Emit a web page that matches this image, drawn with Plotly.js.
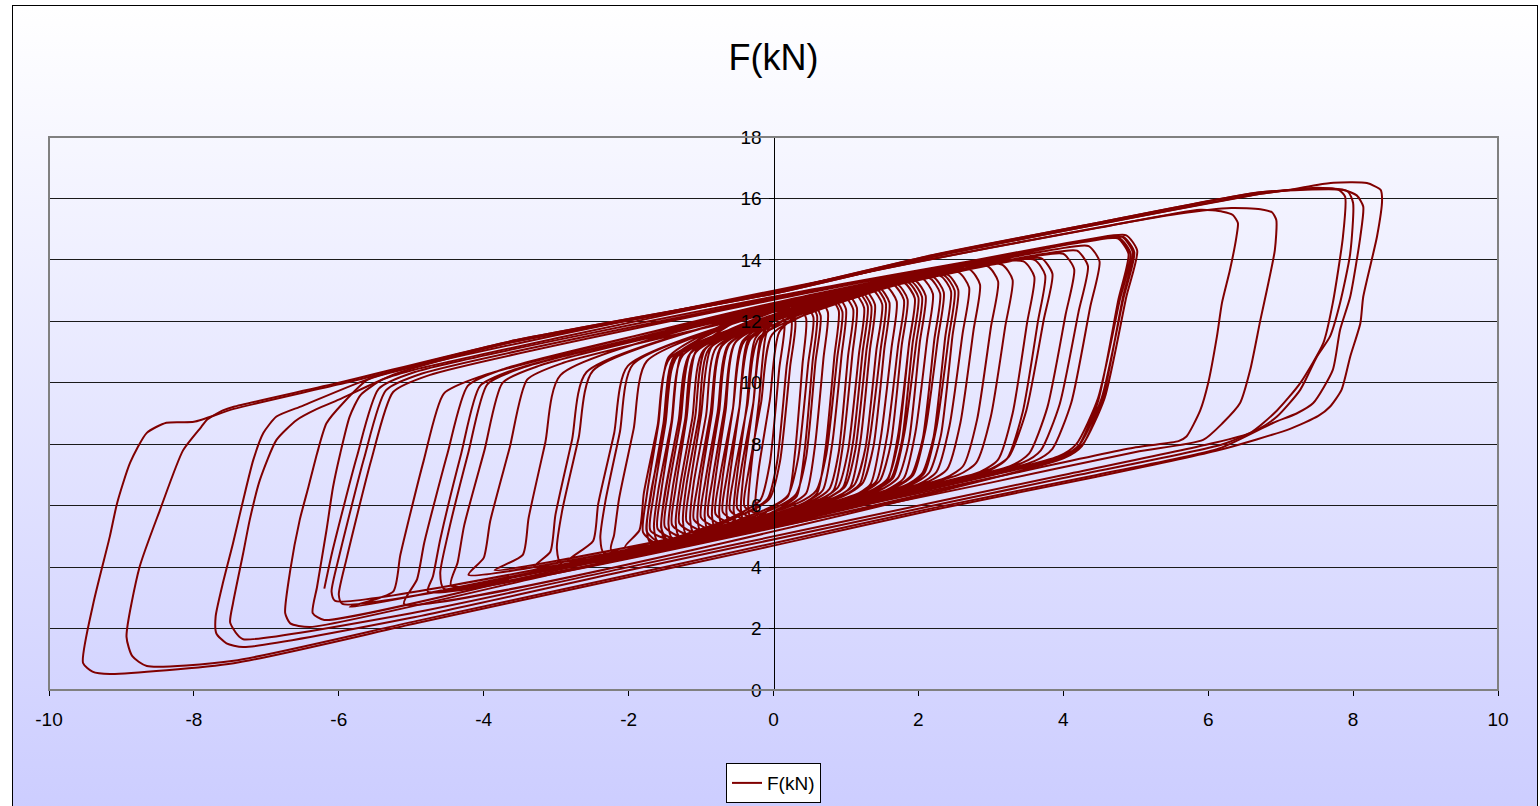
<!DOCTYPE html>
<html>
<head>
<meta charset="utf-8">
<script src="https://cdn.plot.ly/plotly-3.0.1.min.js"></script>
<style>
  html, body { margin:0; padding:0; background:#ffffff; }
  #bg { position:absolute; left:12px; top:5px; width:1524px; height:806px; border:1px solid #000;
        background:linear-gradient(to bottom, #ffffff 0%, #cccdff 100%); }
  #chart { position:absolute; left:0; top:0; width:1540px; height:806px; }
</style>
</head>
<body>
<div id="bg"></div>
<div id="chart"></div>
<script>
// Tick labels
const xTicks = [-10, -8, -6, -4, -2, 0, 2, 4, 6, 8, 10];
const yTicks = [0, 2, 4, 6, 8, 10, 12, 14, 16, 18];
const seriesName = 'F(kN)';

// Densest central cycles (displacement x, force y)
const denseX = [
 -1.65,-0.30,-0.05,0.09,0.23,0.30,0.15,-0.65,-1.45,-1.59,-1.75,-1.80,
 -1.60,0.87,1.12,1.27,1.42,1.50,1.35,-0.01,-1.37,-1.52,-1.69,-1.75,
 -1.55,-0.05,0.20,0.34,0.48,0.55,0.40,-0.48,-1.35,-1.49,-1.65,-1.70,
 -1.40,1.80,2.05,2.21,2.37,2.45,2.30,0.58,-1.15,-1.31,-1.49,-1.55,
 -1.45,-0.43,-0.18,-0.05,0.08,0.15,0.00,-0.64,-1.27,-1.40,-1.55,-1.60,
 -1.35,0.34,0.59,0.73,0.88,0.95,0.80,-0.17,-1.14,-1.28,-1.45,-1.50,
 -1.25,-0.33,-0.08,0.05,0.18,0.25,0.10,-0.49,-1.07,-1.20,-1.35,-1.40,
 -1.15,0.64,0.89,1.03,1.18,1.25,1.10,0.08,-0.94,-1.08,-1.25,-1.30,
 -1.05,0.06,0.31,0.45,0.58,0.65,0.50,-0.18,-0.86,-1.00,-1.15,-1.20,
 -0.95,1.22,1.47,1.62,1.77,1.85,1.70,0.49,-0.72,-0.87,-1.04,-1.10,
 -0.85,1.47,1.72,1.87,2.02,2.10,1.95,0.67,-0.62,-0.77,-0.94,-1.00,
 -0.75,0.98,1.23,1.38,1.53,1.60,1.45,0.46,-0.53,-0.68,-0.84,-0.90,
 -0.65,1.65,1.90,2.06,2.22,2.30,2.15,0.88,-0.40,-0.56,-0.74,-0.80,
 -0.55,1.32,1.57,1.72,1.87,1.95,1.80,0.74,-0.32,-0.47,-0.64,-0.70,
 -0.45,1.90,2.15,2.31,2.47,2.55,2.40,1.10,-0.20,-0.36,-0.54,-0.60,
 -0.35,0.74,0.99,1.13,1.28,1.35,1.20,0.53,-0.14,-0.28,-0.45,-0.50,
 -0.25,1.37,1.62,1.77,1.92,2.00,1.85,0.92,-0.02,-0.17,-0.34,-0.40,
 -0.10,0.52,0.77,0.90,1.03,1.10,0.95,0.52,0.08,-0.05,-0.20,-0.25
];
const denseY = [
 4.73,5.84,6.24,7.44,10.53,12.03,12.53,11.93,10.83,8.63,6.33,5.13,
 4.76,6.29,6.69,7.89,11.06,12.56,13.06,12.21,10.86,8.66,6.36,5.16,
 4.79,5.94,6.34,7.54,10.64,12.14,12.64,12.01,10.88,8.68,6.39,5.19,
 4.88,6.64,7.04,8.24,11.48,12.98,13.48,12.47,10.96,8.76,6.48,5.28,
 4.85,5.79,6.19,7.39,10.47,11.97,12.47,11.96,10.94,8.74,6.45,5.25,
 4.91,6.09,6.49,7.69,10.82,12.32,12.82,12.16,10.99,8.79,6.51,5.31,
 4.97,5.83,6.23,7.43,10.51,12.01,12.51,12.03,11.04,8.84,6.57,5.37,
 5.03,6.20,6.60,7.80,10.95,12.45,12.95,12.28,11.10,8.90,6.63,5.43,
 5.09,5.97,6.37,7.57,10.69,12.19,12.69,12.17,11.15,8.95,6.69,5.49,
 5.15,6.42,6.82,8.02,11.22,12.72,13.22,12.46,11.20,9.00,6.75,5.55,
 5.21,6.51,6.91,8.11,11.33,12.83,13.33,12.55,11.26,9.06,6.81,5.61,
 5.27,6.33,6.73,7.93,11.11,12.61,13.11,12.46,11.31,9.11,6.87,5.67,
 5.33,6.58,6.98,8.18,11.41,12.91,13.41,12.64,11.36,9.16,6.93,5.73,
 5.39,6.46,6.86,8.06,11.26,12.76,13.26,12.59,11.41,9.21,6.99,5.79,
 5.45,6.68,7.08,8.28,11.52,13.02,13.52,12.75,11.47,9.27,7.05,5.85,
 5.51,6.23,6.63,7.83,11.00,12.50,13.00,12.51,11.52,9.32,7.11,5.91,
 5.57,6.47,6.87,8.07,11.28,12.78,13.28,12.68,11.57,9.37,7.17,5.97,
 5.66,6.14,6.54,7.74,10.89,12.39,12.89,12.52,11.65,9.45,7.26,6.06
];

// Small to medium cycles
const innerX = [
 -0.20,-0.05,0.20,0.30,0.40,0.45,0.30,0.10,-0.10,-0.20,-0.31,-0.35,
 -0.30,0.07,0.32,0.43,0.54,0.60,0.45,0.15,-0.17,-0.28,-0.41,-0.45,
 -0.40,0.20,0.45,0.57,0.69,0.75,0.60,0.25,-0.25,-0.37,-0.50,-0.55,
 -0.50,0.35,0.60,0.72,0.84,0.90,0.75,0.35,-0.35,-0.47,-0.60,-0.65,
 -0.60,0.43,0.68,0.81,0.94,1.00,0.85,0.40,-0.43,-0.56,-0.70,-0.75,
 -0.70,0.58,0.83,0.96,1.09,1.15,1.00,0.50,-0.53,-0.66,-0.80,-0.85,
 -0.80,0.71,0.96,1.10,1.23,1.30,1.15,0.60,-0.61,-0.75,-0.90,-0.95,
 -0.90,0.81,1.06,1.20,1.33,1.40,1.25,0.65,-0.71,-0.85,-1.00,-1.05,
 -1.00,0.94,1.19,1.33,1.48,1.55,1.40,0.75,-0.79,-0.93,-1.10,-1.15,
 -1.10,1.09,1.34,1.48,1.63,1.70,1.55,0.85,-0.89,-1.03,-1.20,-1.25,
 -1.20,1.17,1.42,1.57,1.72,1.80,1.65,0.90,-0.97,-1.12,-1.29,-1.35,
 -1.30,1.32,1.57,1.72,1.87,1.95,1.80,1.00,-1.07,-1.22,-1.39,-1.45,
 -1.40,1.40,1.65,1.81,1.97,2.05,1.90,1.05,-1.15,-1.31,-1.49,-1.55,
 -1.50,1.55,1.80,1.96,2.12,2.20,2.05,1.15,-1.25,-1.41,-1.59,-1.65,
 -1.60,1.68,1.93,2.10,2.27,2.35,2.20,1.25,-1.33,-1.50,-1.69,-1.75,
 -1.70,1.83,2.08,2.25,2.42,2.50,2.35,1.35,-1.43,-1.60,-1.79,-1.85,
 -2.05,2.00,2.25,2.43,2.61,2.70,2.55,1.30,-1.75,-1.93,-2.13,-2.20,
 -2.24,2.15,2.40,2.58,2.76,2.85,2.70,1.40,-1.94,-2.12,-2.32,-2.39,
 -2.34,2.37,2.62,2.81,3.00,3.10,2.95,1.60,-2.01,-2.20,-2.42,-2.49,
 -2.84,2.55,2.80,3.00,3.20,3.30,3.15,1.70,-2.49,-2.69,-2.92,-2.99,
 -2.93,2.85,3.10,3.30,3.50,3.60,3.45,1.90,-2.58,-2.78,-3.01,-3.08,
 -3.31,2.98,3.23,3.44,3.65,3.75,3.60,2.00,-2.94,-3.15,-3.38,-3.46
];
const innerY = [
 5.60,5.90,6.30,7.80,10.60,12.10,12.60,12.35,11.60,9.40,7.20,6.00,
 5.50,5.90,6.30,7.80,10.70,12.20,12.70,12.40,11.50,9.30,7.10,5.90,
 5.45,6.00,6.40,7.90,10.80,12.30,12.80,12.45,11.45,9.25,7.05,5.85,
 5.40,6.00,6.40,7.90,10.85,12.35,12.85,12.50,11.40,9.20,7.00,5.80,
 5.35,6.10,6.50,8.00,10.90,12.40,12.90,12.55,11.35,9.15,6.95,5.75,
 5.30,6.10,6.50,8.00,10.95,12.45,12.95,12.60,11.30,9.10,6.90,5.70,
 5.25,6.20,6.60,8.10,11.00,12.50,13.00,12.65,11.25,9.05,6.85,5.65,
 5.20,6.20,6.60,8.10,11.05,12.55,13.05,12.70,11.20,9.00,6.80,5.60,
 5.15,6.30,6.70,8.20,11.10,12.60,13.10,12.75,11.15,8.95,6.75,5.55,
 5.10,6.30,6.70,8.20,11.15,12.65,13.15,12.80,11.10,8.90,6.70,5.50,
 5.05,6.40,6.80,8.30,11.20,12.70,13.20,12.85,11.05,8.85,6.65,5.45,
 5.00,6.40,6.80,8.30,11.25,12.75,13.25,12.90,11.00,8.80,6.60,5.40,
 4.95,6.50,6.90,8.40,11.30,12.80,13.30,12.95,10.95,8.75,6.55,5.35,
 4.90,6.50,6.90,8.40,11.40,12.90,13.40,13.00,10.90,8.70,6.50,5.30,
 4.85,6.60,7.00,8.50,11.45,12.95,13.45,13.05,10.85,8.65,6.45,5.25,
 4.80,6.65,7.05,8.55,11.50,13.00,13.50,13.10,10.80,8.60,6.40,5.20,
 4.65,6.70,7.10,8.60,11.60,13.10,13.60,13.20,10.70,8.50,6.25,5.05,
 4.55,6.80,7.20,8.70,11.70,13.20,13.70,13.25,10.60,8.40,6.15,4.95,
 4.45,6.90,7.30,8.80,11.80,13.30,13.80,13.35,10.55,8.35,6.05,4.85,
 4.20,7.00,7.40,8.90,11.85,13.35,13.85,13.40,10.40,8.20,5.80,4.60,
 4.10,7.10,7.50,9.00,11.95,13.45,13.95,13.50,10.35,8.15,5.70,4.50,
 4.00,7.15,7.55,9.05,12.00,13.50,14.00,13.55,10.25,8.05,5.60,4.40
];

// Medium cycles
const midX = [
 -3.85,3.00,3.25,3.49,3.73,3.85,3.70,3.25,0.00,-2.90,-3.40,-3.64,-3.91,-4.00,
 -4.21,3.28,3.53,3.78,4.03,4.15,4.00,3.55,0.00,-3.24,-3.74,-3.99,-4.27,-4.36,
 -4.45,3.44,3.69,3.95,4.21,4.34,4.19,3.74,0.00,-3.45,-3.95,-4.21,-4.50,-4.60,
 -4.55,3.60,3.85,4.11,4.37,4.50,4.35,3.90,0.00,-3.55,-4.05,-4.31,-4.60,-4.70,
 -4.77,3.95,4.20,4.48,4.76,4.90,4.75,4.30,0.00,-3.72,-4.22,-4.50,-4.82,-4.92,
 -5.10,4.01,4.26,4.54,4.82,4.96,4.81,4.36,0.00,-4.05,-4.55,-4.83,-5.15,-5.25,
 -5.85,4.02,4.27,4.57,4.87,5.02,4.87,4.42,0.00,-4.75,-5.25,-5.55,-5.89,-6.00,
 -5.95,3.98,4.23,4.53,4.83,4.98,4.83,4.38,0.00,-4.85,-5.35,-5.65,-5.99,-6.10,
 -6.05,3.93,4.18,4.48,4.78,4.93,4.78,4.33,0.00,-4.95,-5.45,-5.75,-6.09,-6.20
];
const midY = [
 3.90,7.20,7.60,9.10,12.05,13.55,14.05,13.95,12.30,10.65,10.10,7.90,5.50,4.30,
 3.75,7.30,7.70,9.20,12.20,13.70,14.20,14.10,12.40,10.55,10.00,7.80,5.35,4.15,
 3.40,7.40,7.80,9.30,12.30,13.80,14.30,14.20,12.45,10.50,9.95,7.75,5.00,3.80,
 3.30,7.45,7.85,9.35,12.45,13.95,14.45,14.35,12.50,10.45,9.90,7.70,4.90,3.70,
 3.20,7.50,7.90,9.40,12.70,14.20,14.70,14.60,12.55,10.45,9.90,7.70,4.80,3.60,
 2.80,7.55,7.95,9.45,12.75,14.25,14.75,14.65,12.60,10.20,9.65,7.45,4.40,3.20,
 2.70,7.60,8.00,9.50,12.80,14.30,14.80,14.70,12.70,10.25,9.70,7.50,4.30,3.10,
 2.80,7.60,8.00,9.50,12.75,14.25,14.75,14.65,12.75,10.30,9.75,7.55,4.40,3.20,
 2.90,7.60,8.00,9.50,12.70,14.20,14.70,14.60,12.80,10.35,9.80,7.60,4.50,3.30
];

// Large cycles, each closed; null separates them
const outerX = [
 -6.20,-3.00,0.00,3.00,5.00,5.59,5.70,5.89,6.00,6.12,6.19,6.30,6.39,6.41,6.34,6.20,5.89,4.50,2.00,0.00,-3.00,-5.00,-5.40,-5.70,-5.85,-5.98,-6.08,-6.17,-6.30,-6.36,-6.20, null,
 -6.40,-3.00,0.00,3.00,5.00,5.93,6.20,6.44,6.58,6.72,6.81,6.92,6.94,6.88,6.72,6.32,5.59,3.00,0.00,-3.00,-5.00,-5.60,-5.94,-6.17,-6.30,-6.42,-6.54,-6.67,-6.74,-6.67,-6.40, null,
 -7.32,-5.00,-2.00,1.00,4.00,6.00,6.58,6.95,7.27,7.59,7.72,7.86,7.89,7.80,7.50,6.72,4.46,2.20,0.00,-3.65,-5.20,-6.00,-6.30,-6.58,-6.86,-7.09,-7.23,-7.32,-7.46,-7.50,-7.40,-7.32, null,
 -7.32,-5.00,-2.00,1.00,4.00,6.20,6.70,6.95,7.27,7.50,7.68,7.82,7.96,8.00,7.93,7.70,6.72,4.46,2.20,0.00,-3.65,-5.50,-6.50,-6.86,-7.04,-7.18,-7.32,-7.46,-7.60,-7.70,-7.69,-7.55,-7.32, null,
 -8.65,-7.45,-4.92,-2.38,0.00,2.20,4.46,6.15,6.90,7.22,7.45,7.72,7.82,7.96,8.10,8.14,8.05,7.86,6.72,4.46,2.20,0.00,-3.65,-6.00,-7.45,-7.60,-7.82,-7.90,-8.15,-8.47,-8.75,-8.93,-8.85,-8.65, null,
 -9.16,-7.45,-4.92,-2.38,0.00,2.20,4.46,6.15,7.13,7.52,7.68,7.84,7.96,8.10,8.14,8.33,8.40,8.38,8.19,7.73,7.50,7.13,6.72,4.46,2.20,0.00,-3.65,-6.00,-7.45,-8.00,-8.38,-8.65,-8.88,-9.06,-9.16,-9.39,-9.53,-9.40,-9.16
];
const outerY = [
 2.28,3.90,5.40,6.90,7.90,8.10,8.25,9.10,9.99,11.50,12.60,13.67,14.76,15.20,15.46,15.57,15.63,15.05,13.95,12.95,11.45,10.40,10.10,9.60,8.90,7.70,6.60,5.20,3.36,2.50,2.28, null,
 2.05,3.80,5.30,6.75,7.75,8.14,8.69,9.34,10.42,12.04,13.02,14.32,15.30,15.55,15.65,15.69,15.50,14.40,13.00,11.55,10.50,10.10,9.34,8.68,7.70,6.60,5.53,3.90,2.50,2.17,2.05, null,
 1.65,2.50,4.00,5.50,7.00,8.00,8.37,9.10,9.99,11.30,12.60,14.76,16.06,16.28,16.35,16.15,15.15,14.10,12.90,11.30,10.30,9.45,9.15,8.79,8.14,6.83,5.53,4.45,2.83,2.20,1.80,1.65, null,
 1.40,2.35,3.90,5.40,6.90,8.00,8.50,8.90,9.77,10.85,11.50,12.60,14.20,15.85,16.22,16.32,16.20,15.20,14.15,12.95,11.34,10.20,9.25,8.90,8.37,7.49,6.18,4.78,3.48,2.39,1.84,1.52,1.40, null,
 0.78,0.95,2.25,3.55,4.78,5.92,7.00,7.86,8.70,9.00,9.34,10.42,11.72,12.80,14.76,15.74,16.10,16.28,16.20,15.20,14.16,12.95,11.34,10.00,9.22,9.10,8.80,8.56,7.80,5.85,4.00,1.73,1.10,0.78, null,
 0.52,0.87,2.18,3.48,4.70,5.86,6.94,7.81,8.50,8.92,9.22,9.77,10.85,11.94,12.80,14.76,15.95,16.28,16.50,16.51,16.44,16.28,16.15,15.15,14.10,12.90,11.30,9.95,9.15,8.73,8.70,8.37,7.40,6.08,5.00,2.80,0.88,0.60,0.52
];

const xs = denseX.concat(innerX, midX, [null], outerX);
const ys = denseY.concat(innerY, midY, [null], outerY);

const trace = {
  type: 'scatter', mode: 'lines', name: seriesName,
  x: xs, y: ys, connectgaps: false,
  line: { color: '#800000', width: 2, shape: 'spline', smoothing: 0.6 },
  hoverinfo: 'skip'
};

const font = 'Liberation Sans, Arial, sans-serif';
const layout = {
  width: 1540, height: 806,
  margin: { l: 49, r: 42, t: 137, b: 116, pad: 0, autoexpand: false },
  paper_bgcolor: 'rgba(0,0,0,0)', plot_bgcolor: 'rgba(0,0,0,0)',
  font: { family: font, size: 19, color: '#000' },
  title: { text: 'F(kN)', font: { family: font, size: 36, color: '#000' },
           x: 0.5, xref: 'paper', xanchor: 'center', y: 0.929, yref: 'container', yanchor: 'middle' },
  xaxis: { range: [-10, 10], tickvals: xTicks, ticktext: xTicks.map(String),
           ticks: 'outside', ticklen: 5, tickwidth: 1, tickcolor: '#000', ticklabelstandoff: 7,
           showline: true, linecolor: '#000', linewidth: 1, showgrid: false, zeroline: false,
           tickfont: { family: font, size: 19, color: '#000' }, fixedrange: true },
  yaxis: { range: [0, 18], tickvals: yTicks, ticktext: yTicks.map(String),
           anchor: 'free', position: 0.5, side: 'left',
           ticks: 'outside', ticklen: 5, tickwidth: 1, tickcolor: '#000', ticklabelstandoff: 3,
           showline: true, linecolor: '#000', linewidth: 1,
           showgrid: true, gridcolor: '#1a1a1a', gridwidth: 1, zeroline: false,
           tickfont: { family: font, size: 19, color: '#000' }, fixedrange: true },
  showlegend: true,
  legend: { orientation: 'h', x: 0.5, xanchor: 'center', xref: 'paper',
            y: 0.0533, yref: 'container', yanchor: 'top',
            bgcolor: '#ffffff', bordercolor: '#000', borderwidth: 1,
            font: { family: font, size: 19, color: '#000' } },
  shapes: [{ type: 'rect', xref: 'paper', yref: 'paper', x0: 0, x1: 1, y0: 0, y1: 1,
             line: { color: '#808080', width: 2 }, layer: 'above' }]
};

Plotly.newPlot('chart', [trace], layout, { displayModeBar: false, staticPlot: true });
</script>
</body>
</html>
